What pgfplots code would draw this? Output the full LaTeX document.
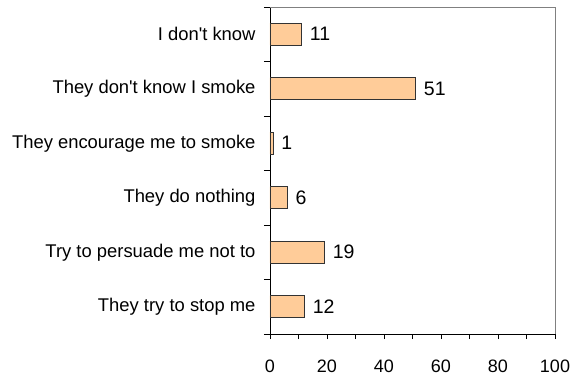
\documentclass[border=0pt]{standalone}
\usepackage{pgfplots}
\pgfplotsset{compat=1.18}
\usepackage{fontspec}
\setmainfont{Liberation Sans}
\definecolor{barfill}{HTML}{FFCC99}
\begin{document}
\begin{tikzpicture}[font=\fontsize{18bp}{22bp}\selectfont]
\begin{axis}[
  at={(0,0)}, anchor=south west,
  scale only axis, width=285bp, height=327bp,
  xbar, bar width=22bp,
  xmin=0, xmax=100, ymin=-0.5, ymax=5.5,
  xtick={0,20,...,100}, minor xtick={10,30,...,90},
  ytick={0,...,5},
  yticklabels={{They try to stop me}, {Try to persuade me not to}, {They do nothing}, {They encourage me to smoke}, {They don\textquotesingle t know I smoke}, {I don\textquotesingle t know}},
  minor ytick={-0.5,0.5,...,5.5},
  axis x line*=bottom, axis y line*=left,
  axis line style={black, -},
  tick align=outside,
  major tick length=5bp, minor tick length=5bp,
  major y tick style={draw=none},
  minor y tick style={black, /pgfplots/minor tick length=6bp},
  tick style={black, line width=0.6pt},
  y tick label style={xshift=-6bp, font=\fontsize{18.4bp}{22bp}\selectfont},
  x tick label style={yshift=-17bp},
  /pgf/number format/assume math mode=true,
  nodes near coords,
  every node near coord/.append style={font=\fontsize{19.5bp}{23bp}\selectfont, anchor=west, xshift=5bp},
  clip=false,
]
\addplot[fill=barfill, draw=black!80, line width=0.6pt] coordinates {
  (12,0) (19,1) (6,2) (1,3) (51,4) (11,5)
};
\draw[gray, line width=0.6pt] (rel axis cs:0,1) -- (rel axis cs:1,1) -- (rel axis cs:1,0);
\end{axis}
\pgfresetboundingbox
\useasboundingbox (-270bp,-44bp) rectangle (313bp,334bp);
\end{tikzpicture}
\end{document}
